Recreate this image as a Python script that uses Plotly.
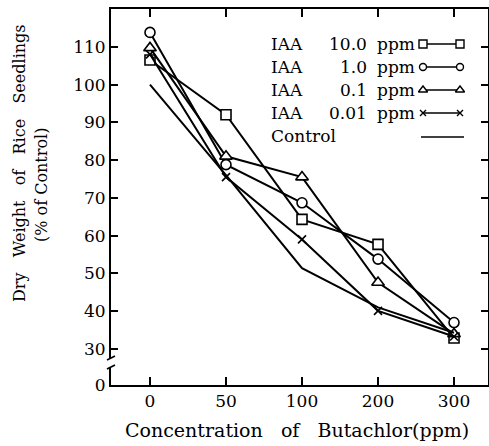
import plotly.graph_objects as go

categories = ["0", "50", "100", "200", "300"]
iaa_10 = [106.5, 92.0, 64.3, 57.7, 32.9]
iaa_1 = [113.8, 78.8, 68.7, 53.8, 37.0]
iaa_01 = [109.7, 81.0, 75.5, 47.6, 34.0]
iaa_001 = [108.0, 75.5, 59.0, 40.1, 33.3]
control = [100.0, 76.0, 51.4, 41.0, 34.3]
ytick_vals = [20.47, 30, 40, 50, 60, 70, 80, 90, 100, 110]
ytick_text = ["0", "30", "40", "50", "60", "70", "80", "90", "100", "110"]

W_FIG, H_FIG = 489, 446
L, R, T, B = 111, 488, 9, 385
PW, PH = R - L, B - T

def px(x):
    return (x - L) / PW

def py(y):
    return (B - y) / PH

FONT = "DejaVu Serif"
xs = list(range(len(categories)))

fig = go.Figure()
series = [
    ("IAA 10.0 ppm", iaa_10, "square", 10, "white"),
    ("IAA 1.0 ppm", iaa_1, "circle", 10, "white"),
    ("IAA 0.1 ppm", iaa_01, "triangle-up", 11, "white"),
    ("IAA 0.01 ppm", iaa_001, "x-thin-open", 8, "black"),
]
for name, vals, sym, sz, fill in series:
    fig.add_trace(go.Scatter(
        x=xs, y=vals, name=name, mode="lines+markers",
        line=dict(color="black", width=2),
        marker=dict(symbol=sym, size=sz, color=fill, line=dict(color="black", width=1.6)),
        showlegend=False,
    ))
fig.add_trace(go.Scatter(x=xs, y=control, name="Control", mode="lines",
                         line=dict(color="black", width=2), showlegend=False))

# custom legend (text left, sample right) on an overlay axis in pixel units
rows = [("10.0", "square", 44, 8, "white"), ("1.0", "circle", 67, 7, "white"),
        ("0.1", "triangle-up", 90, 8, "white"), ("0.01", "x-thin-open", 113, 6, "black")]
LFS = 17
annotations = []
for num, sym, yy, sz, fill in rows:
    fig.add_trace(go.Scatter(x=[423, 460], y=[yy, yy], xaxis="x2", yaxis="y2",
                             mode="lines+markers", line=dict(color="black", width=1.6),
                             marker=dict(symbol=sym, size=sz, color=fill,
                                         line=dict(color="black", width=1.4)),
                             showlegend=False, hoverinfo="skip"))
    annotations.append(dict(x=px(269), y=py(yy), xref="paper", yref="paper", text="IAA",
                            showarrow=False, xanchor="left", yanchor="middle",
                            font=dict(family=FONT, size=LFS, color="black")))
    annotations.append(dict(x=px(369), y=py(yy), xref="paper", yref="paper", text=num,
                            showarrow=False, xanchor="right", yanchor="middle",
                            font=dict(family=FONT, size=LFS, color="black")))
    annotations.append(dict(x=px(375), y=py(yy), xref="paper", yref="paper", text="ppm",
                            showarrow=False, xanchor="left", yanchor="middle",
                            font=dict(family=FONT, size=LFS, color="black")))
fig.add_trace(go.Scatter(x=[421, 464], y=[137, 137], xaxis="x2", yaxis="y2", mode="lines",
                         line=dict(color="black", width=1.6), showlegend=False, hoverinfo="skip"))
annotations.append(dict(x=px(269), y=py(136), xref="paper", yref="paper", text="Control",
                        showarrow=False, xanchor="left", yanchor="middle",
                        font=dict(family=FONT, size=LFS, color="black")))

# axis titles
annotations.append(dict(x=px(20), y=py(163), xref="paper", yref="paper",
                        text="Dry   Weight   of   Rice   Seedlings", textangle=-90, showarrow=False,
                        xanchor="center", yanchor="middle",
                        font=dict(family=FONT, size=16, color="black")))
annotations.append(dict(x=px(41), y=py(185), xref="paper", yref="paper",
                        text="(% of Control)", textangle=-90, showarrow=False,
                        xanchor="center", yanchor="middle",
                        font=dict(family=FONT, size=16, color="black")))
annotations.append(dict(x=px(297), y=py(430), xref="paper", yref="paper",
                        text="Concentration   of   Butachlor(ppm)", showarrow=False,
                        xanchor="center", yanchor="middle",
                        font=dict(family=FONT, size=19, color="black")))

# axis break marks
shapes = [
    dict(type="rect", xref="paper", yref="paper", x0=px(108), x1=px(114), y0=py(368), y1=py(358),
         fillcolor="white", line=dict(width=0), layer="above"),
    dict(type="line", xref="paper", yref="paper", x0=px(107), x1=px(115), y0=py(360), y1=py(356),
         line=dict(color="black", width=1.6), layer="above"),
    dict(type="line", xref="paper", yref="paper", x0=px(107), x1=px(115), y0=py(369), y1=py(365),
         line=dict(color="black", width=1.6), layer="above"),
]

fig.update_layout(
    width=W_FIG, height=H_FIG,
    margin=dict(l=L, r=W_FIG - R, t=T, b=H_FIG - B, pad=0),
    paper_bgcolor="white", plot_bgcolor="white",
    font=dict(family=FONT, size=17, color="black"),
    annotations=annotations, shapes=shapes,
    xaxis=dict(range=[-0.513, 4.447], tickvals=xs, ticktext=categories,
               ticks="inside", ticklen=8, tickwidth=1.5, tickcolor="black",
               showline=True, linecolor="black", linewidth=1.8, mirror="ticks",
               showgrid=False, zeroline=False, automargin=False,
               tickfont=dict(family=FONT, size=17)),
    yaxis=dict(range=[20.47, 120], tickvals=ytick_vals, ticktext=ytick_text,
               ticks="inside", ticklen=7, tickwidth=1.5, tickcolor="black",
               showline=True, linecolor="black", linewidth=1.8, mirror="ticks",
               showgrid=False, zeroline=False, automargin=False,
               tickfont=dict(family=FONT, size=17)),
    xaxis2=dict(range=[L, R], overlaying="x", visible=False, fixedrange=True),
    yaxis2=dict(range=[B, T], overlaying="y", visible=False, fixedrange=True),
)

fig.write_html("out.html", config={"displayModeBar": False},
               post_script="document.body.style.margin='0';document.body.style.overflow='hidden';")
